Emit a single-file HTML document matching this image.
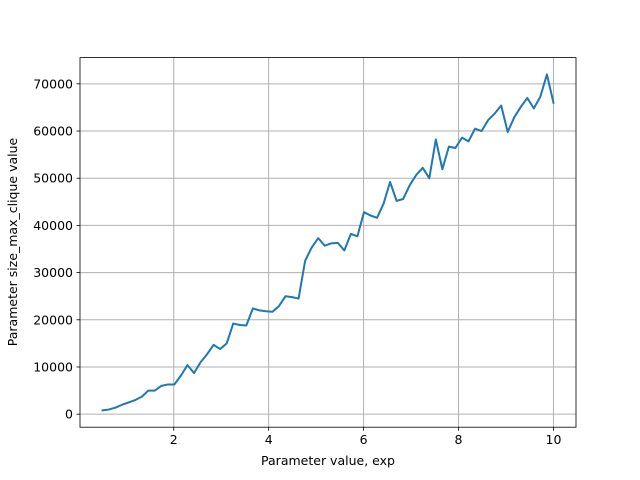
<!DOCTYPE html>
<html><head><meta charset="utf-8"><style>
body{margin:0;background:#fff}
svg{display:block;font-family:"DejaVu Sans","Liberation Sans",sans-serif}
</style></head><body>
<svg id="chart" width="640" height="480">
<rect width="640" height="480" fill="#fff"/>
<g id="grid"></g>
<g id="ticks"></g>
<path id="line" fill="none" stroke="#1f77b4" stroke-width="2" stroke-linejoin="round" stroke-linecap="square"/>
<rect x="80" y="57.6" width="496" height="369.6" fill="none" stroke="#000" stroke-width="0.8"/>
<text x="328" y="465" text-anchor="middle" font-size="12.5">Parameter value, exp</text>
<text transform="translate(17,242) rotate(-90)" text-anchor="middle" font-size="12.5">Parameter size_max_clique value</text>
</svg>
<script>
const xStart = 0.5, xEnd = 10;
const values = [800,1000,1400,2000,2500,3000,3700,5000,5000,6000,6300,6300,8200,10400,8700,11000,12700,14700,13800,15000,19200,18900,18800,22400,22000,21800,21700,22900,25000,24800,24500,32500,35300,37300,35700,36200,36300,34700,38200,37700,42800,42100,41600,44600,49200,45200,45600,48500,50700,52200,50000,58200,51900,56700,56400,58600,57800,60500,60000,62300,63700,65400,59800,62900,65100,67000,64800,67300,72000,66000];
const xTicks = [2,4,6,8,10];
const yTicks = [0,10000,20000,30000,40000,50000,60000,70000];

const L=80,R=576,T=57.6,B=427.2;
const n=values.length;
const xs=values.map((v,i)=>xStart+i*(xEnd-xStart)/(n-1));
const ymin0=Math.min(...values),ymax0=Math.max(...values);
const xm=(xEnd-xStart)*0.05, ym=(ymax0-ymin0)*0.05;
const x0=xStart-xm,x1=xEnd+xm,y0=ymin0-ym,y1=ymax0+ym;
const sx=x=>L+(x-x0)/(x1-x0)*(R-L);
const sy=y=>B-(y-y0)/(y1-y0)*(B-T);
const NS='http://www.w3.org/2000/svg';
const grid=document.getElementById('grid'),ticks=document.getElementById('ticks');
function mk(tag,attrs,parent){const e=document.createElementNS(NS,tag);for(const k in attrs)e.setAttribute(k,attrs[k]);parent.appendChild(e);return e;}
xTicks.forEach(t=>{
  const x=sx(t);
  const g=mk('line',{x1:x,x2:x,y1:T,y2:B,stroke:'#b0b0b0','stroke-width':1},grid);
  
  
  const tk=mk('line',{x1:x,x2:x,y1:B,y2:B+3.5,stroke:'#000','stroke-width':0.8},ticks);
  
  
  const tx=mk('text',{x:x,y:B+17,'text-anchor':'middle','font-size':12.5},ticks);
  tx.textContent=t;
  
  
});
yTicks.forEach(t=>{
  const y=sy(t);
  const g=mk('line',{x1:L,x2:R,y1:y,y2:y,stroke:'#b0b0b0','stroke-width':1},grid);
  
  
  const tk=mk('line',{x1:L-3.5,x2:L,y1:y,y2:y,stroke:'#000','stroke-width':0.8},ticks);
  
  
  const tx=mk('text',{x:L-7,y:y+4.5,'text-anchor':'end','font-size':12.5},ticks);
  tx.textContent=t;
  
  
});
document.getElementById('line').setAttribute('d',values.map((v,i)=>(i?'L':'M')+sx(xs[i]).toFixed(2)+' '+sy(v).toFixed(2)).join(' '));
</script>
</body></html>
